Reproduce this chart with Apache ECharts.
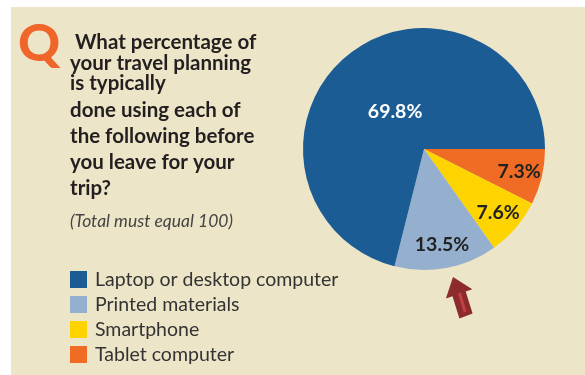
<!DOCTYPE html>
<html>
<head>
<meta charset="utf-8">
<script src="https://cdn.jsdelivr.net/npm/echarts@6/dist/echarts.min.js"></script>
<style>
  html, body { margin: 0; padding: 0; background: #ffffff; }
  #chart { width: 585px; height: 375px; }
</style>
</head>
<body>
<div id="chart"></div>
<script>
// Survey answers, in drawing order (clockwise from 3 o'clock)
const categories = ['Tablet computer', 'Smartphone', 'Printed materials', 'Laptop or desktop computer'];
const shares = [7.3, 7.6, 13.5, 69.8];
// Legend reads top-down in this order
const legendOrder = ['Laptop or desktop computer', 'Printed materials', 'Smartphone', 'Tablet computer'];

const sliceColors = {
  'Laptop or desktop computer': '#1b5c95',
  'Printed materials': '#95b0cf',
  'Smartphone': '#fdd300',
  'Tablet computer': '#f06b23'
};
const labelColors = {
  'Laptop or desktop computer': '#ffffff',
  'Printed materials': '#222222',
  'Smartphone': '#222222',
  'Tablet computer': '#222222'
};
// How far out along the radius each value label sits (fraction of radius)
const labelReach = {
  'Laptop or desktop computer': 0.37,
  'Printed materials': 0.77,
  'Smartphone': 0.77,
  'Tablet computer': 0.77
};

const PIE_CX = 424, PIE_CY = 149, PIE_R = 121;
const FONT = 'Lato, "Open Sans", sans-serif';

const chart = echarts.init(document.getElementById('chart'), null, { renderer: 'canvas' });

const questionLines = [
  { text: ' What percentage of', y: 42 },
  { text: 'your travel planning', y: 63 },
  { text: 'is typically', y: 83.5 },
  { text: 'done using each of', y: 110 },
  { text: 'the following before', y: 136.5 },
  { text: 'you leave for your', y: 162.5 },
  { text: 'trip?', y: 188 }
];

const graphics = [
  {
    type: 'rect', z: -10, silent: true,
    shape: { x: 11, y: 7, width: 574, height: 368 },
    style: { fill: '#ece5c7' }
  },
  {
    type: 'text', left: 18, top: 18,
    style: { text: 'Q', font: '900 52px ' + FONT, fill: '#f0652a' }
  },
  ...questionLines.map(l => ({
    type: 'text', x: 70, y: l.y,
    style: {
      text: l.text, font: 'bold 20.5px ' + FONT, fill: '#231f20',
      textAlign: 'left', textVerticalAlign: 'middle'
    }
  })),
  {
    type: 'text', x: 70, y: 221,
    style: {
      text: '(Total must equal 100)', font: 'italic 17.5px ' + FONT, fill: '#444444',
      textAlign: 'left', textVerticalAlign: 'middle'
    }
  },
  // pointer arrow under the printed-materials slice
  {
    type: 'polygon', silent: true,
    shape: {
      points: [
        [453, 277], [472.3, 289.2], [465.7, 291.5], [472.6, 313.6],
        [459.4, 318.4], [452.5, 296.3], [445.9, 298.6]
      ]
    },
    style: { fill: '#8c2a2c' }
  },
  {
    type: 'line', silent: true,
    shape: { x1: 459.5, y1: 293, x2: 465, y2: 312 },
    style: { stroke: '#c2403f', lineWidth: 3 }
  }
];

chart.setOption({
  backgroundColor: '#ffffff',
  animation: false,
  graphic: graphics,
  legend: {
    data: legendOrder,
    orient: 'vertical',
    left: 70,
    top: 269.5,
    height: 105,
    padding: 0,
    icon: 'rect',
    itemWidth: 17,
    itemHeight: 17,
    itemGap: 5,
    selectedMode: false,
    textStyle: {
      fontFamily: FONT, fontSize: 19.5, color: '#333333',
      lineHeight: 17,
      padding: [0, 0, 0, 3]
    }
  },
  series: [{
    type: 'pie',
    center: [PIE_CX, PIE_CY],
    radius: PIE_R,
    startAngle: 0,
    clockwise: true,
    label: {
      show: true,
      position: 'inside',
      fontFamily: FONT,
      fontWeight: 'bold',
      fontSize: 19.5,
      formatter: p => p.value.toFixed(1) + '%'
    },
    labelLine: { show: false },
    emphasis: { disabled: true },
    itemStyle: { borderWidth: 0 },
    labelLayout: function (params) {
      const name = categories[params.dataIndex];
      const r = params.labelRect;
      const lx = r.x + r.width / 2, ly = r.y + r.height / 2;
      const f = labelReach[name] / 0.5 - 1;
      return { dx: (lx - PIE_CX) * f, dy: (ly - PIE_CY) * f };
    },
    data: categories.map((name, i) => ({
      name: name,
      value: shares[i],
      itemStyle: { color: sliceColors[name] },
      label: { color: labelColors[name] }
    }))
  }]
});
</script>
</body>
</html>
